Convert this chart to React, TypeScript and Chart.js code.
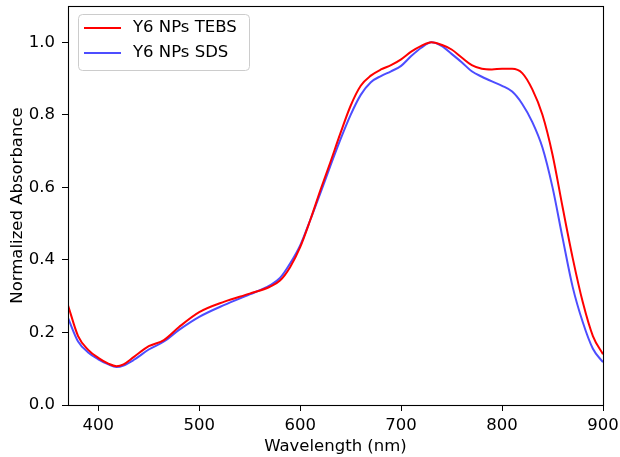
import React, { useEffect, useRef } from "react";
import { Chart, registerables } from "chart.js";

Chart.register(...registerables);

const wavelengths = [370, 380, 390, 400, 410, 418, 425, 435, 450, 465, 480, 500, 525, 550, 570, 580, 590, 600, 610, 620, 630, 640, 650, 660, 670, 680, 690, 700, 710, 720, 730, 740, 750, 760, 770, 780, 790, 800, 810, 820, 830, 840, 850, 860, 870, 880, 890, 900];

const tebsValues = [0.275, 0.19, 0.152, 0.13, 0.114, 0.107, 0.112, 0.132, 0.162, 0.179, 0.215, 0.256, 0.285, 0.307, 0.326, 0.343, 0.38, 0.435, 0.51, 0.592, 0.67, 0.75, 0.825, 0.88, 0.908, 0.925, 0.937, 0.953, 0.974, 0.99, 1.0, 0.993, 0.98, 0.958, 0.937, 0.927, 0.925, 0.927, 0.927, 0.915, 0.87, 0.8, 0.69, 0.545, 0.405, 0.283, 0.19, 0.14];

const sdsValues = [0.24, 0.175, 0.145, 0.126, 0.112, 0.105, 0.109, 0.124, 0.153, 0.175, 0.207, 0.243, 0.276, 0.305, 0.33, 0.35, 0.39, 0.44, 0.51, 0.584, 0.66, 0.733, 0.8, 0.855, 0.89, 0.907, 0.92, 0.935, 0.962, 0.985, 1.0, 0.99, 0.968, 0.945, 0.92, 0.905, 0.892, 0.88, 0.864, 0.83, 0.78, 0.71, 0.6, 0.46, 0.325, 0.228, 0.155, 0.118];

const seriesLabels = ["Y6 NPs TEBS", "Y6 NPs SDS"];
const seriesColors = ["#ff0000", "#4d4dff"];

const FONT = "'DejaVu Sans', sans-serif";
const FONT_SIZE = 16.5;

const framePlugin = {
  id: "frameAndLegend",
  afterDatasetsDraw(chart: any) {
    const { ctx, chartArea } = chart;
    ctx.save();
    ctx.strokeStyle = "#000";
    ctx.lineWidth = 1.1;
    ctx.strokeRect(
      Math.round(chartArea.left) + 0.5,
      Math.round(chartArea.top) + 0.5,
      Math.round(chartArea.right - chartArea.left),
      Math.round(chartArea.bottom - chartArea.top)
    );
    // legend
    const lx = 78.5;
    const ly = 14.5;
    const lw = 171;
    const lh = 56;
    const r = 4;
    ctx.beginPath();
    ctx.moveTo(lx + r, ly);
    ctx.lineTo(lx + lw - r, ly);
    ctx.arcTo(lx + lw, ly, lx + lw, ly + r, r);
    ctx.lineTo(lx + lw, ly + lh - r);
    ctx.arcTo(lx + lw, ly + lh, lx + lw - r, ly + lh, r);
    ctx.lineTo(lx + r, ly + lh);
    ctx.arcTo(lx, ly + lh, lx, ly + lh - r, r);
    ctx.lineTo(lx, ly + r);
    ctx.arcTo(lx, ly, lx + r, ly, r);
    ctx.closePath();
    ctx.fillStyle = "rgba(255,255,255,0.8)";
    ctx.fill();
    ctx.strokeStyle = "#cccccc";
    ctx.lineWidth = 1;
    ctx.stroke();
    chart.data.datasets.forEach((ds: any, i: number) => {
      const y = 28 + i * 25;
      ctx.beginPath();
      ctx.strokeStyle = ds.borderColor;
      ctx.lineWidth = 2;
      ctx.moveTo(84, y);
      ctx.lineTo(121, y);
      ctx.stroke();
      ctx.fillStyle = "#000";
      ctx.font = `${FONT_SIZE}px ${FONT}`;
      ctx.textBaseline = "middle";
      ctx.textAlign = "left";
      ctx.fillText(ds.label, 133, y);
    });
    ctx.restore();
  },
};

export default function App() {
  const canvasRef = useRef<HTMLCanvasElement | null>(null);

  useEffect(() => {
    document.body.style.margin = "0";
    const canvas = canvasRef.current;
    if (!canvas) return;
    const datasets = [tebsValues, sdsValues].map((vals, i) => ({
      label: seriesLabels[i],
      data: wavelengths.map((w, j) => ({ x: w, y: vals[j] })),
      borderColor: seriesColors[i],
      backgroundColor: seriesColors[i],
      borderWidth: 2,
      pointRadius: 0,
      cubicInterpolationMode: "monotone" as const,
      fill: false,
    }));
    const chart = new Chart(canvas, {
      type: "line",
      data: { datasets },
      options: {
        animation: false,
        responsive: true,
        maintainAspectRatio: false,
        layout: { padding: { top: 6, right: 17, left: 0, bottom: 0 } },
        plugins: {
          legend: { display: false },
          tooltip: { enabled: false },
        },
        scales: {
          x: {
            type: "linear",
            min: 370,
            max: 900,
            afterFit(scale: any) {
              scale.height = 52;
              scale.paddingLeft = 0;
              scale.paddingRight = 0;
            },
            border: { display: false },
            grid: {
              display: true,
              drawOnChartArea: false,
              drawTicks: true,
              tickLength: 6,
              color: "#000",
            },
            ticks: {
              stepSize: 100,
              includeBounds: false,
              color: "#000",
              padding: 5,
              maxRotation: 0,
              font: { family: FONT, size: FONT_SIZE },
            },
            title: {
              display: true,
              text: "Wavelength (nm)",
              color: "#000",
              padding: { top: 0, bottom: 0 },
              font: { family: FONT, size: FONT_SIZE },
            },
          },
          y: {
            type: "linear",
            min: 0,
            max: 1.1,
            afterFit(scale: any) {
              scale.width = 68;
              scale.paddingTop = 0;
              scale.paddingBottom = 0;
            },
            border: { display: false },
            grid: {
              display: true,
              drawOnChartArea: false,
              drawTicks: true,
              tickLength: 6,
              color: "#000",
            },
            ticks: {
              stepSize: 0.2,
              includeBounds: false,
              color: "#000",
              padding: 7,
              font: { family: FONT, size: FONT_SIZE },
              callback: (v: any) => Number(v).toFixed(1),
            },
            title: {
              display: true,
              text: "Normalized Absorbance",
              color: "#000",
              padding: { top: 8, bottom: 0 },
              font: { family: FONT, size: FONT_SIZE },
            },
          },
        },
      },
      plugins: [framePlugin],
    });
    return () => chart.destroy();
  }, []);

  return (
    <div style={{ width: 620, height: 457, position: "relative" }}>
      <canvas ref={canvasRef} />
    </div>
  );
}
